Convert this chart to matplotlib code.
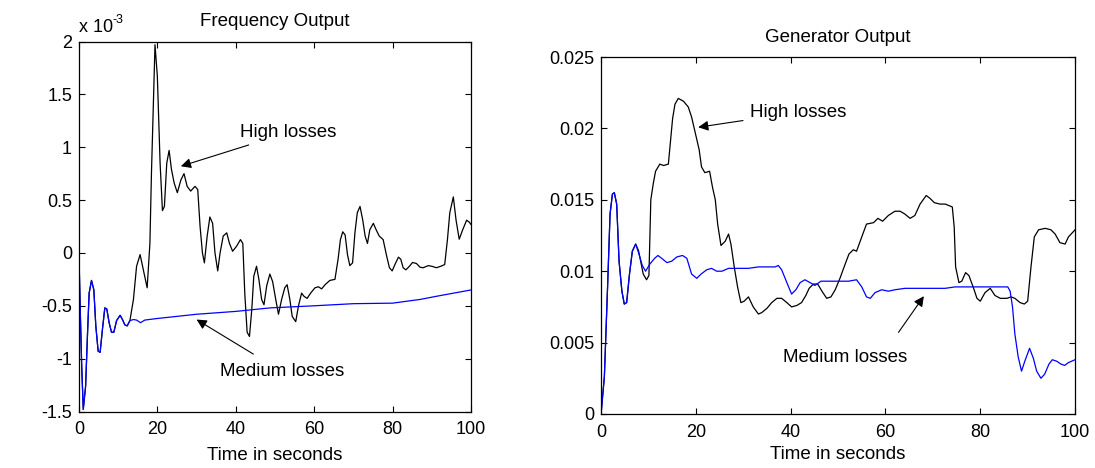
import matplotlib.pyplot as plt
from matplotlib.ticker import FuncFormatter
from matplotlib.transforms import offset_copy

plt.rcParams['font.family'] = ['Liberation Sans', 'DejaVu Sans']
plt.rcParams['axes.unicode_minus'] = False

# frequency deviation (in units of 1e-3, scaled below)
freq_t_high = [0, 0.26, 0.7, 1.1, 1.7, 2.2, 2.6, 3.2, 3.8, 4.3, 4.9, 5.4, 6, 6.6, 7.1, 7.7,
               8.3, 8.9, 9.6, 10.5, 11.1, 11.7, 12.3, 13, 13.9, 14.7, 15.6, 16.4, 17.4, 18.1,
               18.5, 19.4, 20, 20.7, 21.3, 21.8, 22.4, 23, 23.6, 24.3, 25.1, 26, 26.8, 27.6,
               28.5, 29.6, 30.3, 30.9, 31.5, 32, 32.7, 33.4, 34.1, 34.7, 35.4, 36, 36.8, 37.7,
               38.4, 39.2, 40.2, 41.2, 41.8, 42.3, 42.9, 43.5, 44.1, 44.6, 45.3, 45.9, 46.6,
               47.2, 47.9, 48.7, 49.4, 50.2, 50.9, 51.7, 52.5, 53.1, 53.8, 54.4, 55.3, 56,
               56.8, 57.4, 58.2, 59.1, 60.2, 61.1, 61.9, 62.8, 64, 65.3, 66.1, 66.7, 67.3,
               67.9, 68.5, 69.1, 69.8, 70.4, 71, 71.7, 72.4, 73, 73.6, 74.2, 75.1, 75.8, 76.6,
               77.6, 78.5, 79.2, 79.9, 80.6, 81.5, 82.1, 82.7, 83.4, 84.3, 85.1, 86.1, 87,
               87.8, 89.1, 90, 91.2, 92.3, 93.3, 94, 94.6, 95.5, 96.2, 97, 97.9, 98.9, 99.6, 100]
freq_high = [0, -0.44, -1.07, -1.48, -1.26, -0.75, -0.38, -0.26, -0.35, -0.69, -0.93, -0.94,
             -0.72, -0.52, -0.53, -0.66, -0.75, -0.75, -0.64, -0.59, -0.63, -0.68, -0.69,
             -0.64, -0.44, -0.126, -0.016, -0.157, -0.33, 0.09, 0.76, 1.97, 1.67, 0.85, 0.40,
             0.44, 0.85, 0.97, 0.79, 0.66, 0.57, 0.69, 0.75, 0.63, 0.585, 0.63, 0.6, 0.25, 0,
             -0.094, 0.157, 0.34, 0.28, 0, -0.17, 0, 0.16, 0.19, 0.09, 0.016, 0.063, 0.126,
             0.09, -0.38, -0.75, -0.79, -0.53, -0.22, -0.126, -0.25, -0.44, -0.49, -0.31,
             -0.2, -0.27, -0.44, -0.58, -0.44, -0.33, -0.30, -0.44, -0.6, -0.65, -0.5, -0.38,
             -0.41, -0.43, -0.38, -0.33, -0.32, -0.34, -0.3, -0.26, -0.25, -0.06, 0.126, 0.2,
             0.17, -0.016, -0.12, -0.094, 0.19, 0.38, 0.44, 0.31, 0.16, 0.09, 0.22, 0.28,
             0.22, 0.16, 0.126, -0.03, -0.14, -0.17, -0.11, -0.04, -0.06, -0.14, -0.16,
             -0.126, -0.09, -0.1, -0.135, -0.14, -0.12, -0.126, -0.14, -0.126, -0.11, 0.126,
             0.38, 0.53, 0.31, 0.13, 0.22, 0.31, 0.29, 0.27]
freq_t_med = [0, 0.26, 0.7, 1.1, 1.7, 2.2, 2.6, 3.2, 3.8, 4.3, 4.9, 5.4, 6, 6.6, 7.1, 7.7,
              8.3, 8.9, 9.6, 10.5, 11.1, 11.7, 12.3, 13, 13.9, 14.7, 15.7, 16.8, 20, 30, 40,
              48.7, 60, 70, 80, 87, 91.2, 100]
freq_med = [0, -0.44, -1.07, -1.48, -1.26, -0.75, -0.38, -0.26, -0.35, -0.69, -0.93, -0.94,
            -0.72, -0.52, -0.53, -0.66, -0.75, -0.75, -0.64, -0.59, -0.63, -0.68, -0.69,
            -0.64, -0.63, -0.635, -0.66, -0.635, -0.62, -0.58, -0.553, -0.52, -0.5, -0.48,
            -0.475, -0.44, -0.41, -0.35]

# generator output
gen_t_high = [0, 0.7, 1.4, 1.9, 2.4, 2.8, 3.3, 3.8, 4.4, 4.9, 5.4, 6, 6.6, 7.3, 7.9, 8.9,
              9.6, 10.1, 10.5, 11, 11.5, 12.4, 13.2, 14.2, 15.1, 15.6, 16.3, 17.4, 18.4, 19.1,
              19.8, 20.7, 21.2, 21.9, 22.9, 23.5, 24.1, 24.6, 25.3, 26.2, 26.9, 27.4, 28.1,
              28.8, 29.5, 30.2, 31.1, 32.1, 33.2, 33.9, 35, 36, 37.1, 38.1, 39.2, 40.2, 41.3,
              42.3, 43.2, 43.9, 44.8, 45.7, 46.6, 47.6, 48.5, 49.4, 50.4, 51.5, 52.3, 53.2,
              53.9, 55, 56, 57.5, 58.4, 59.4, 60.6, 62, 63.1, 64.1, 65.2, 66.2, 67.3, 68.6,
              69.4, 70.3, 71.5, 72.6, 74.1, 74.5, 74.8, 75.5, 76.1, 76.9, 77.6, 78.6, 79.3,
              80, 81, 82.1, 83.1, 84.2, 85.6, 86.5, 87.3, 88.4, 89.3, 90, 90.7, 91.4, 92.3,
              93.7, 94.9, 95.8, 96.8, 97.9, 98.6, 100]
gen_high = [0, 0.0026, 0.0091, 0.014, 0.0154, 0.0155, 0.0147, 0.0107, 0.0086, 0.0077,
            0.0078, 0.0098, 0.0114, 0.0119, 0.01145, 0.0098, 0.0094, 0.0097, 0.015, 0.0161,
            0.017, 0.0175, 0.0174, 0.0175, 0.0207, 0.0217, 0.0221, 0.0219, 0.0215, 0.0208,
            0.0198, 0.0185, 0.0173, 0.0169, 0.017, 0.0159, 0.015, 0.0133, 0.0118, 0.0121,
            0.0126, 0.0119, 0.0103, 0.0089, 0.0078, 0.0079, 0.0082, 0.0075, 0.007, 0.0071,
            0.0074, 0.0078, 0.0081, 0.0081, 0.0078, 0.0075, 0.0076, 0.0078, 0.0083, 0.0088,
            0.0091, 0.0091, 0.0086, 0.0081, 0.0082, 0.0087, 0.0095, 0.0105, 0.0112, 0.0115,
            0.0114, 0.0124, 0.0133, 0.0134, 0.0137, 0.0135, 0.0139, 0.0142, 0.0142, 0.0140,
            0.0137, 0.0139, 0.0147, 0.0153, 0.0151, 0.0148, 0.0147, 0.0147, 0.0145, 0.0131,
            0.0103, 0.0092, 0.0093, 0.0099, 0.0097, 0.0088, 0.0081, 0.0079, 0.0085, 0.0088,
            0.0083, 0.0081, 0.0081, 0.0082, 0.0081, 0.0078, 0.0077, 0.0079, 0.0103, 0.0124,
            0.0129, 0.013, 0.0129, 0.0126, 0.012, 0.0119, 0.0124, 0.0129]
gen_t_med = [0, 0.7, 1.4, 1.9, 2.4, 2.8, 3.3, 3.8, 4.4, 4.9, 5.4, 6, 6.6, 7.3, 8, 8.7, 9.4,
             10.3, 11.3, 12, 12.8, 13.9, 14.9, 16, 17.2, 18.1, 19.1, 20.2, 21.1, 22.3, 23.3,
             24.4, 25.5, 26.9, 28.3, 29.7, 31.1, 33.2, 35.3, 36.7, 37.4, 38.1, 39.2, 40.2,
             41.1, 42, 43, 44.1, 45.1, 46.4, 48, 50.1, 52.2, 53.9, 55, 56, 56.8, 57.8, 59.2,
             60.6, 62, 64.1, 66.2, 69.1, 72.6, 74.7, 77.5, 81.7, 85.8, 86.3, 86.8, 87.3, 88,
             88.7, 89.4, 90.4, 91.2, 91.9, 92.8, 93.6, 94.5, 95.2, 96.1, 97, 97.8, 98.6, 100]
gen_med = [0, 0.0026, 0.0091, 0.014, 0.0154, 0.0155, 0.0147, 0.0107, 0.0086, 0.0077, 0.0078,
           0.0098, 0.0114, 0.0119, 0.0112, 0.0104, 0.01, 0.0105, 0.0109, 0.0111, 0.0109,
           0.0106, 0.0107, 0.011, 0.0111, 0.0109, 0.0098, 0.0095, 0.0098, 0.0101, 0.0102,
           0.01, 0.01, 0.0102, 0.0102, 0.0102, 0.0102, 0.0103, 0.0103, 0.0103, 0.0104,
           0.0101, 0.0092, 0.0084, 0.0087, 0.0092, 0.0094, 0.0092, 0.009, 0.0093, 0.0093,
           0.0093, 0.0093, 0.0094, 0.0089, 0.0082, 0.0081, 0.0085, 0.0087, 0.0086, 0.0087,
           0.0088, 0.0088, 0.0088, 0.0088, 0.0089, 0.0089, 0.0089, 0.0089, 0.0086, 0.0075,
           0.0056, 0.004, 0.003, 0.0037, 0.0046, 0.0039, 0.003, 0.0025, 0.0028, 0.0035,
           0.0038, 0.0037, 0.0035, 0.0034, 0.0036, 0.0038]

freq_high = [v * 1e-3 for v in freq_high]
freq_med = [v * 1e-3 for v in freq_med]

FS = 13.5
arrow = dict(arrowstyle='-|>', color='black', lw=0.8, mutation_scale=15, shrinkB=0)

fig = plt.figure(figsize=(10.95, 4.68), dpi=100)
ax1 = fig.add_axes([0.0721, 0.1207, 0.358, 0.7906])
ax2 = fig.add_axes([0.5489, 0.1154, 0.4329, 0.7628])

ax1.plot(freq_t_high, freq_high, color='black', lw=0.9)
ax1.plot(freq_t_med, freq_med, color='blue', lw=0.9)
ax1.set_xlim(0, 100)
ax1.set_ylim(-1.5e-3, 2e-3)
ax1.set_yticks([v * 1e-3 for v in [-1.5, -1, -0.5, 0, 0.5, 1, 1.5, 2]])
ax1.yaxis.set_major_formatter(FuncFormatter(lambda v, _: '%g' % round(v * 1e3, 6)))
ax1.text(0.0, 1.015, 'x 10', transform=ax1.transAxes, fontsize=13, ha='left', va='bottom')
ax1.text(0.0, 1.015, '-3', transform=offset_copy(ax1.transAxes, fig=fig, x=24.5, y=7,
                                                  units='points'),
         fontsize=9, ha='left', va='bottom')
ax1.set_title('Frequency Output', fontsize=FS, pad=11)
ax1.annotate('High losses', xy=(26, 0.82e-3), xytext=(41.2, 1.14e-3), fontsize=FS,
             va='center', arrowprops=dict(arrow, shrinkA=3))
ax1.annotate('Medium losses', xy=(30, -0.63e-3), xytext=(36.1, -1.125e-3), fontsize=FS,
             va='center', arrowprops=dict(arrow, shrinkA=9))

ax2.plot(gen_t_high, gen_high, color='black', lw=0.9)
ax2.plot(gen_t_med, gen_med, color='blue', lw=0.9)
ax2.set_xlim(0, 100)
ax2.set_ylim(0, 0.025)
ax2.set_yticks([0, 0.005, 0.01, 0.015, 0.02, 0.025])
ax2.yaxis.set_major_formatter(FuncFormatter(lambda v, _: '%g' % round(v, 6)))
ax2.set_title('Generator Output', fontsize=FS, pad=11)
ax2.annotate('High losses', xy=(20.5, 0.02008), xytext=(31.4, 0.02113), fontsize=FS,
             va='center', arrowprops=dict(arrow, shrinkA=3))
ax2.annotate('Medium losses', xy=(68.1, 0.00825), xytext=(38.3, 0.00397), fontsize=FS,
             va='center', arrowprops=dict(arrow, shrinkA=12, relpos=(0.84, 1.0)))

for ax in (ax1, ax2):
    ax.set_xticks([0, 20, 40, 60, 80, 100])
    ax.tick_params(direction='in', top=True, right=True, labelsize=13, length=4,
                   width=0.8, pad=5)
    ax.tick_params(axis='x', pad=7)
    for s in ax.spines.values():
        s.set_linewidth(0.9)
ax1.set_xlabel('Time in seconds', fontsize=FS, labelpad=6)
ax2.set_xlabel('Time in seconds', fontsize=FS, labelpad=4)

fig.savefig('out.png', dpi=100)
